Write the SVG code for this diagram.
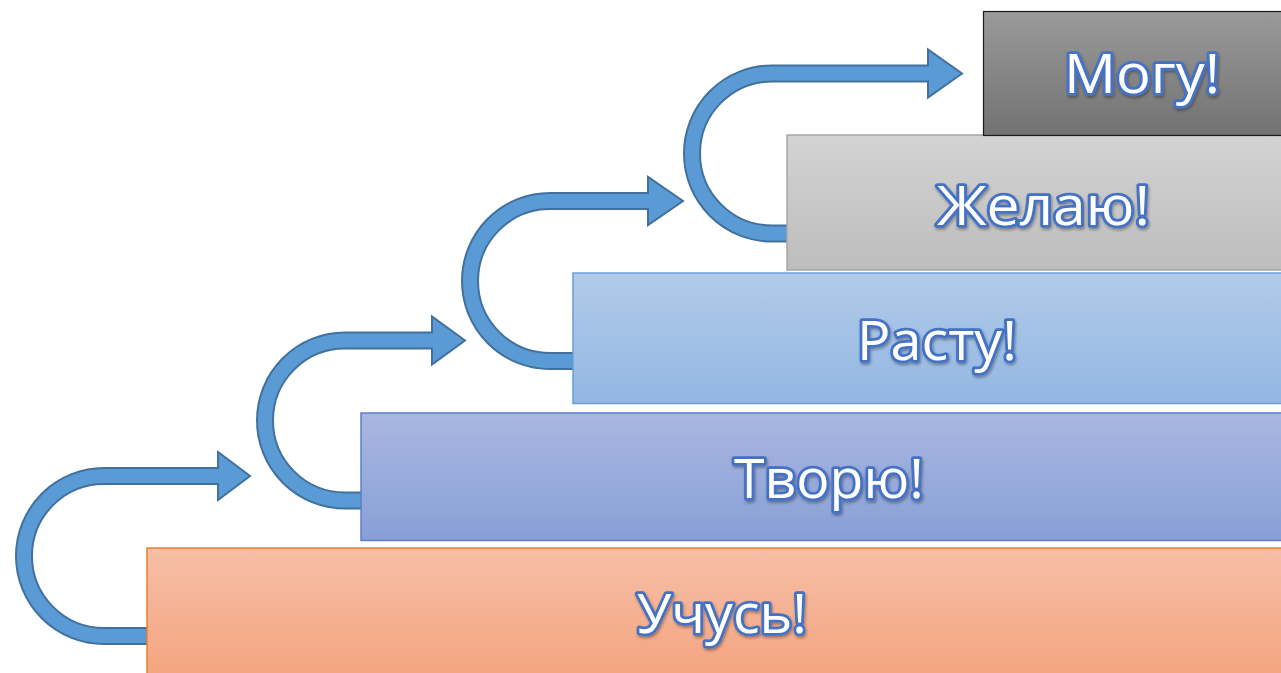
<svg xmlns="http://www.w3.org/2000/svg" width="1281" height="673" viewBox="0 0 1281 673">
<defs>
<linearGradient id="g1" x1="0" y1="0" x2="0" y2="1"><stop offset="0" stop-color="#f6bfa7"/><stop offset="1" stop-color="#f4a47f"/></linearGradient>
<linearGradient id="g2" x1="0" y1="0" x2="0" y2="1"><stop offset="0" stop-color="#a9b7e1"/><stop offset="1" stop-color="#889fd6"/></linearGradient>
<linearGradient id="g3" x1="0" y1="0" x2="0" y2="1"><stop offset="0" stop-color="#b2cbe9"/><stop offset="1" stop-color="#92b7e3"/></linearGradient>
<linearGradient id="g4" x1="0" y1="0" x2="0" y2="1"><stop offset="0" stop-color="#d3d3d3"/><stop offset="1" stop-color="#bdbdbd"/></linearGradient>
<linearGradient id="g5" x1="0" y1="0" x2="0" y2="1"><stop offset="0" stop-color="#9a9a9a"/><stop offset="1" stop-color="#727272"/></linearGradient>
<filter id="sh" x="-10%" y="-20%" width="120%" height="150%"><feDropShadow dx="1" dy="2" stdDeviation="1.5" flood-color="#000" flood-opacity="0.35"/></filter>
</defs>
<style>
.arrow{fill:#5b9bd5;stroke:#41719c;stroke-width:2;stroke-linejoin:miter}
.lbl{font-family:"Open Sans","Noto Sans","DejaVu Sans",sans-serif;font-size:54px;font-weight:normal;fill:#ffffff;stroke:#4472c4;stroke-width:5.5;paint-order:stroke;stroke-linejoin:round;filter:url(#sh)}
</style>
<g id="connectors">
<path class="arrow" d="M152,644 L104,644 A88,88 0 0 1 104,468 L218,468 L218,452 L250,476 L218,500 L218,484 L104,484 A72,72 0 0 0 104,628 L152,628 Z"/>
<path class="arrow" d="M366,508.5 L345,508.5 A88,88 0 0 1 345,332.5 L432,332.5 L432,316.5 L465,340.5 L432,364.5 L432,348.5 L345,348.5 A72,72 0 0 0 345,492.5 L366,492.5 Z"/>
<path class="arrow" d="M578,369 L550,369 A88,88 0 0 1 550,193 L648,193 L648,177 L683,201 L648,225 L648,209 L550,209 A72,72 0 0 0 550,353 L578,353 Z"/>
<path class="arrow" d="M792,241.5 L772,241.5 A88,88 0 0 1 772,65.5 L928,65.5 L928,49.5 L962,73.5 L928,97.5 L928,81.5 L772,81.5 A72,72 0 0 0 772,225.5 L792,225.5 Z"/>
</g>
<g id="node-uchus">
<rect x="147" y="548" width="1140" height="130" fill="url(#g1)" stroke="#ed7d31" stroke-width="1.5"/>
<text class="lbl" x="637" y="633" textLength="170" lengthAdjust="spacingAndGlyphs">Учусь!</text>
</g>
<g id="node-tvoryu">
<rect x="361" y="413" width="926" height="127.5" fill="url(#g2)" stroke="#5b7fcc" stroke-width="1.5"/>
<text class="lbl" x="734" y="498" textLength="190" lengthAdjust="spacingAndGlyphs">Творю!</text>
</g>
<g id="node-rastu">
<rect x="573" y="273" width="714" height="130.5" fill="url(#g3)" stroke="#6a9fd8" stroke-width="1.5"/>
<text class="lbl" x="857" y="360" textLength="160" lengthAdjust="spacingAndGlyphs">Расту!</text>
</g>
<g id="node-zhelayu">
<rect x="787" y="135" width="500" height="135" fill="url(#g4)" stroke="#a6a6a6" stroke-width="1.5"/>
<text class="lbl" x="937" y="225" textLength="213" lengthAdjust="spacingAndGlyphs">Желаю!</text>
</g>
<g id="node-mogu">
<rect x="983.5" y="11.5" width="310" height="124" fill="url(#g5)" stroke="#1a1a1a" stroke-width="1.2"/>
<text class="lbl" x="1064" y="93" textLength="156" lengthAdjust="spacingAndGlyphs">Могу!</text>
</g>
</svg>
